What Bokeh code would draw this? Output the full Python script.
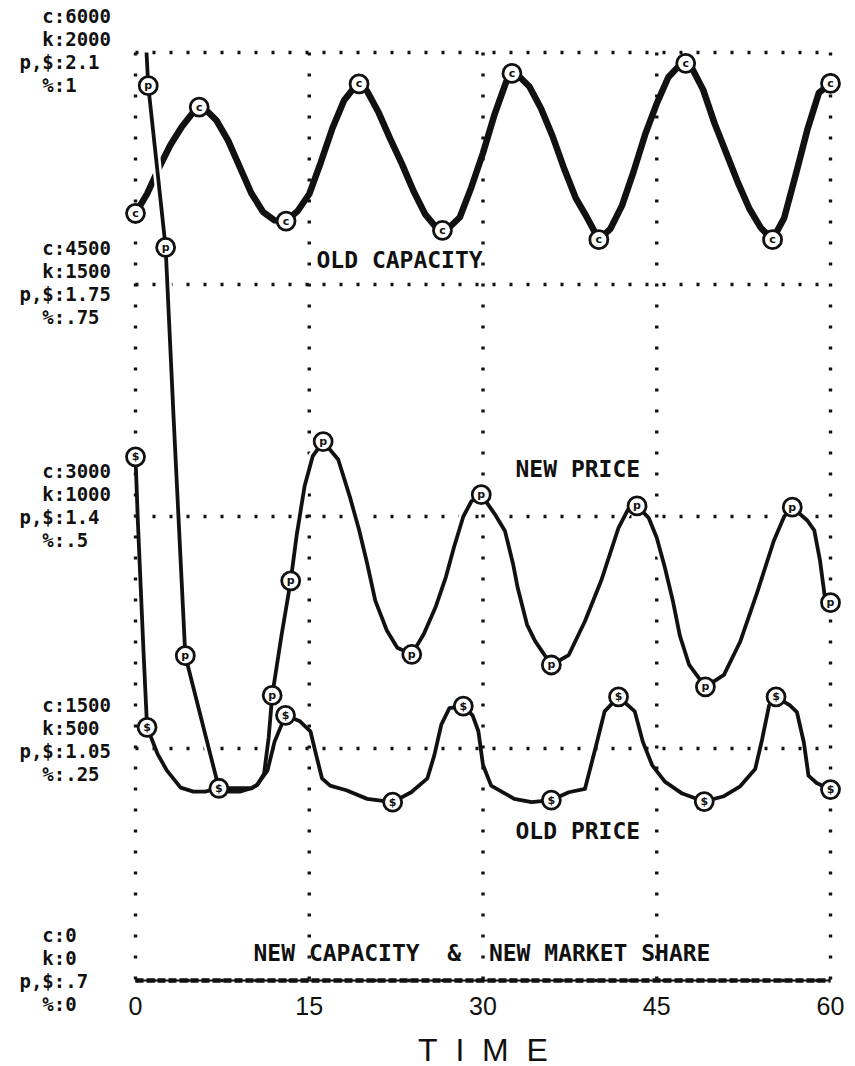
from bokeh.plotting import figure
from bokeh.models import Range1d
from bokeh.core.properties import value
from bokeh.embed import file_html
from bokeh.resources import INLINE

# ---------------- data ----------------
time_ticks = [0, 15, 30, 45, 60]
time_tick_labels = ["0", "15", "30", "45", "60"]
time_title = "T\u00a0\u00a0I\u00a0\u00a0M\u00a0\u00a0E"

c_levels = [0, 1500, 3000, 4500, 6000]
k_levels = [0, 500, 1000, 1500, 2000]
price_levels = [0.7, 1.05, 1.4, 1.75, 2.1]
share_levels = [0, 0.25, 0.5, 0.75, 1]

c_labels = ["c:0", "c:1500", "c:3000", "c:4500", "c:6000"]
k_labels = ["k:0", "k:500", "k:1000", "k:1500", "k:2000"]
p_labels = ["p,$:.7", "p,$:1.05", "p,$:1.4", "p,$:1.75", "p,$:2.1"]
share_labels = ["%:0", "%:.25", "%:.5", "%:.75", "%:1"]

series_names = ["OLD CAPACITY", "NEW PRICE", "OLD PRICE",
                "NEW CAPACITY\u00a0\u00a0&\u00a0\u00a0NEW MARKET SHARE"]

# OLD CAPACITY (c scale)
old_capacity_t = [0, 1, 2, 3, 4, 5, 5.5, 6, 7, 8, 9, 10, 11, 12, 13, 14, 15, 16, 17, 18,
                  19, 19.3, 20, 21, 22, 23, 24, 25, 26, 26.5, 27, 28, 29, 30, 31, 32, 32.5,
                  33, 34, 35, 36, 37, 38, 39, 40, 41, 42, 43, 44, 45, 46, 47, 47.5, 48, 49,
                  50, 51, 52, 53, 54, 55, 56, 57, 58, 59, 60]
old_capacity_v = [4960, 5086, 5250, 5400, 5520, 5615, 5647, 5635, 5560, 5430, 5260, 5090, 4970,
                  4915, 4910, 4975, 5085, 5290, 5510, 5690, 5785, 5797, 5750, 5610, 5440, 5280,
                  5105, 4955, 4865, 4850, 4862, 4935, 5130, 5350, 5600, 5810, 5865, 5855, 5780,
                  5640, 5460, 5250, 5060, 4930, 4790, 4860, 5010, 5230, 5470, 5670, 5840, 5920,
                  5930, 5905, 5760, 5540, 5350, 5160, 4990, 4865, 4790, 4930, 5210, 5500, 5740,
                  5800]
old_capacity_mark_t = [0, 5.5, 13, 19.3, 26.5, 32.5, 40, 47.5, 55, 60]
old_capacity_mark_v = [4960, 5647, 4910, 5797, 4850, 5865, 4790, 5930, 4790, 5800]

# NEW PRICE (p, $ scale)
new_price_t = [0.95, 1.1, 2.6, 3.3, 4.3, 7.2, 8, 9, 10, 10.5, 11.1, 11.5, 11.8, 12.6, 13.4,
               13.9, 14.6, 15.3, 16.2, 17.5, 18.5, 19.3, 20.0, 20.7, 21.7, 22.6, 23.85, 24.9,
               25.9, 26.8, 27.5, 28.3, 29.0, 29.85, 31.0, 31.9, 32.6, 33.0, 33.8, 34.5, 35.9,
               37.4, 38.8, 40.2, 41.7, 42.5, 43.3, 44.3, 45.0, 45.7, 46.4, 47.0, 47.8, 49.2,
               50.8, 52.2, 53.7, 55.1, 56.0, 56.7, 58.0, 58.6, 59.1, 59.5, 60]
new_price_v = [2.10, 2.05, 1.806, 1.545, 1.19, 0.99, 0.985, 0.985, 0.99, 0.995, 1.012, 1.067,
               1.13, 1.22, 1.303, 1.37, 1.446, 1.491, 1.513, 1.486, 1.43, 1.38, 1.329, 1.273,
               1.228, 1.202, 1.192, 1.223, 1.263, 1.309, 1.354, 1.40, 1.423, 1.433, 1.404,
               1.378, 1.328, 1.292, 1.237, 1.212, 1.176, 1.191, 1.242, 1.303, 1.383, 1.41,
               1.416, 1.398, 1.368, 1.323, 1.272, 1.22, 1.176, 1.143, 1.161, 1.211, 1.287,
               1.363, 1.40, 1.414, 1.394, 1.379, 1.333, 1.28, 1.27]
new_price_mark_t = [1.1, 2.6, 4.3, 11.8, 13.4, 16.2, 23.85, 29.85, 35.9, 43.3, 49.2, 56.7, 60]
new_price_mark_v = [2.05, 1.806, 1.19, 1.13, 1.303, 1.513, 1.192, 1.433, 1.176, 1.416, 1.143,
                    1.414, 1.27]

# OLD PRICE (p, $ scale)
old_price_t = [0, 0.2, 0.7, 1.0, 1.9, 2.7, 3.9, 5, 6, 7.2, 8.5, 10, 10.5, 11.4, 12.0, 12.95,
               14.2, 15.1, 15.6, 16.1, 16.8, 18.2, 20.0, 22.2, 23.8, 25.2, 25.8, 26.4, 27.1,
               28.3, 29.1, 29.6, 30.0, 30.7, 32.7, 34.2, 35.9, 37.4, 38.8, 39.7, 40.5, 41.7,
               43.1, 43.8, 44.6, 45.7, 47.2, 49.1, 50.8, 52.2, 53.5, 54.1, 54.7, 55.3, 56.5,
               57.1, 57.7, 58.1, 58.8, 60]
old_price_v = [1.49, 1.394, 1.193, 1.082, 1.042, 1.017, 0.991, 0.985, 0.985, 0.99, 0.99, 0.99,
               0.995, 1.017, 1.06, 1.10, 1.091, 1.076, 1.04, 1.005, 0.994, 0.987, 0.974, 0.969,
               0.984, 1.005, 1.04, 1.086, 1.111, 1.114, 1.10, 1.076, 1.025, 0.994, 0.974, 0.969,
               0.972, 0.984, 0.989, 1.05, 1.106, 1.128, 1.106, 1.06, 1.025, 1.0, 0.982, 0.970,
               0.978, 0.993, 1.019, 1.064, 1.115, 1.128, 1.115, 1.105, 1.059, 1.009, 0.998,
               0.988]
old_price_mark_t = [0, 1.0, 7.2, 12.95, 22.2, 28.3, 35.9, 41.7, 49.1, 55.3, 60]
old_price_mark_v = [1.49, 1.082, 0.99, 1.10, 0.969, 1.114, 0.972, 1.128, 0.970, 1.128, 0.988]

# NEW CAPACITY (k scale) and NEW MARKET SHARE (% scale)
new_capacity_t = [0, 10, 20, 30, 40, 50, 60]
new_capacity_v = [0, 0, 0, 0, 0, 0, 0]
new_share_t = [0, 10, 20, 30, 40, 50, 60]
new_share_v = [0, 0, 0, 0, 0, 0, 0]

# ---------------- layout ----------------
W, H = 855, 1066
ORIGIN_X = 135          # canvas x of time 0
TOP_Y = 52              # canvas y of the top level
X_SPAN_PX = 695
Y_SPAN_PX = 928

x_ppu = X_SPAN_PX / (time_ticks[-1] - time_ticks[0])
y_ppu = Y_SPAN_PX / (price_levels[-1] - price_levels[0])
x_start = time_ticks[0] - ORIGIN_X / x_ppu
x_end = x_start + W / x_ppu
y_end = price_levels[-1] + TOP_Y / y_ppu
y_start = y_end - H / y_ppu


def dx(px):
    return x_start + px / x_ppu


def dy(py):
    return y_end - py / y_ppu


def scaled(levels):
    lo, hi = levels[0], levels[-1]
    p0, p1 = price_levels[0], price_levels[-1]
    return Range1d(lo + (y_start - p0) / (p1 - p0) * (hi - lo),
                   lo + (y_end - p0) / (p1 - p0) * (hi - lo))


p = figure(width=W, height=H, output_backend="svg", toolbar_location=None,
           x_range=Range1d(x_start, x_end), y_range=Range1d(y_start, y_end),
           x_axis_type=None, y_axis_type=None, min_border=0)
p.extra_y_ranges = {"c": scaled(c_levels), "k": scaled(k_levels), "share": scaled(share_levels)}
p.outline_line_color = None
p.grid.visible = False
p.background_fill_color = "white"
p.border_fill_color = "white"

INK = "#111111"

# dotted grid
p.segment(x0=[time_ticks[0]] * len(price_levels), x1=[time_ticks[-1]] * len(price_levels),
          y0=price_levels, y1=price_levels, line_color=INK, line_width=3.4,
          line_dash="3 14")
p.segment(x0=time_ticks, x1=time_ticks, y0=[price_levels[-1]] * len(time_ticks),
          y1=[price_levels[0]] * len(time_ticks), line_color=INK, line_width=3.4,
          line_dash="3 18")

# new capacity & share along the bottom
p.line(new_capacity_t, new_capacity_v, y_range_name="k", line_color=INK, line_width=2)
p.line(new_share_t, new_share_v, y_range_name="share", line_color=INK, line_width=4.5,
       line_dash="8 3")

# old capacity
p.line(old_capacity_t, old_capacity_v, y_range_name="c", line_color=INK, line_width=6.5,
       line_join="round")
# new price with white halo
p.line(new_price_t, new_price_v, line_color="white", line_width=9, line_join="round")
p.line(new_price_t, new_price_v, line_color=INK, line_width=3.8, line_join="round")
# old price
p.line(old_price_t, old_price_v, line_color=INK, line_width=3.8, line_join="round")


def marks(ts, vs, letter, rng=None):
    kw = {"y_range_name": rng} if rng else {}
    p.scatter(ts, vs, marker="circle", size=18, fill_color="white", line_color=INK,
              line_width=2.8, **kw)
    p.text(ts, vs, text=value(letter), text_font=value("DejaVu Sans"),
           text_font_style="bold", text_font_size="11px", text_align="center",
           text_baseline="middle", text_color=INK, **kw)


marks(old_capacity_mark_t, old_capacity_mark_v, "c", "c")
marks(new_price_mark_t, new_price_mark_v, "p")
marks(old_price_mark_t, old_price_mark_v, "$")

# left scale labels (colon aligned, stacked around each level)
FS = 19
ADV = 0.602 * FS
colon_x = dx(59)
group_shift = [0, 2, 0, 9, 9]
lx, ly, lt = [], [], []
for i, lvl in enumerate(price_levels):
    for txt, yo in zip([c_labels[i], k_labels[i], p_labels[i], share_labels[i]],
                       [-46, -23, 0, 23]):
        ci = txt.index(":")
        lx.append(colon_x - (ci + 0.5) * ADV / x_ppu)
        ly.append(lvl - (yo + group_shift[i]) / y_ppu)
        lt.append(txt)
p.text(lx, ly, text=lt, text_font=value("DejaVu Sans Mono"), text_font_style="bold",
       text_font_size=f"{FS}px", text_baseline="middle", text_align="left", text_color=INK)

# x tick labels
p.text(time_ticks, [dy(1005)] * len(time_ticks), text=time_tick_labels,
       text_font=value("Liberation Sans"), text_font_size="25px", text_align="center",
       text_baseline="middle", text_color=INK)
# axis title
p.text([(time_ticks[0] + time_ticks[-1]) / 2], [dy(1049)], text=[time_title],
       text_font=value("Liberation Sans"), text_font_size="32px", text_align="center",
       text_baseline="middle", text_color=INK)

# series annotations
ann_x = [dx(316), dx(515), dx(515), dx(253)]
ann_y = [dy(259), dy(468), dy(830), dy(952)]
p.text(ann_x, ann_y, text=series_names, text_font=value("DejaVu Sans Mono"),
       text_font_style="bold", text_font_size="23px", text_baseline="middle",
       text_align="left", text_color=INK)

open("out.html", "w").write(file_html(p, INLINE))
